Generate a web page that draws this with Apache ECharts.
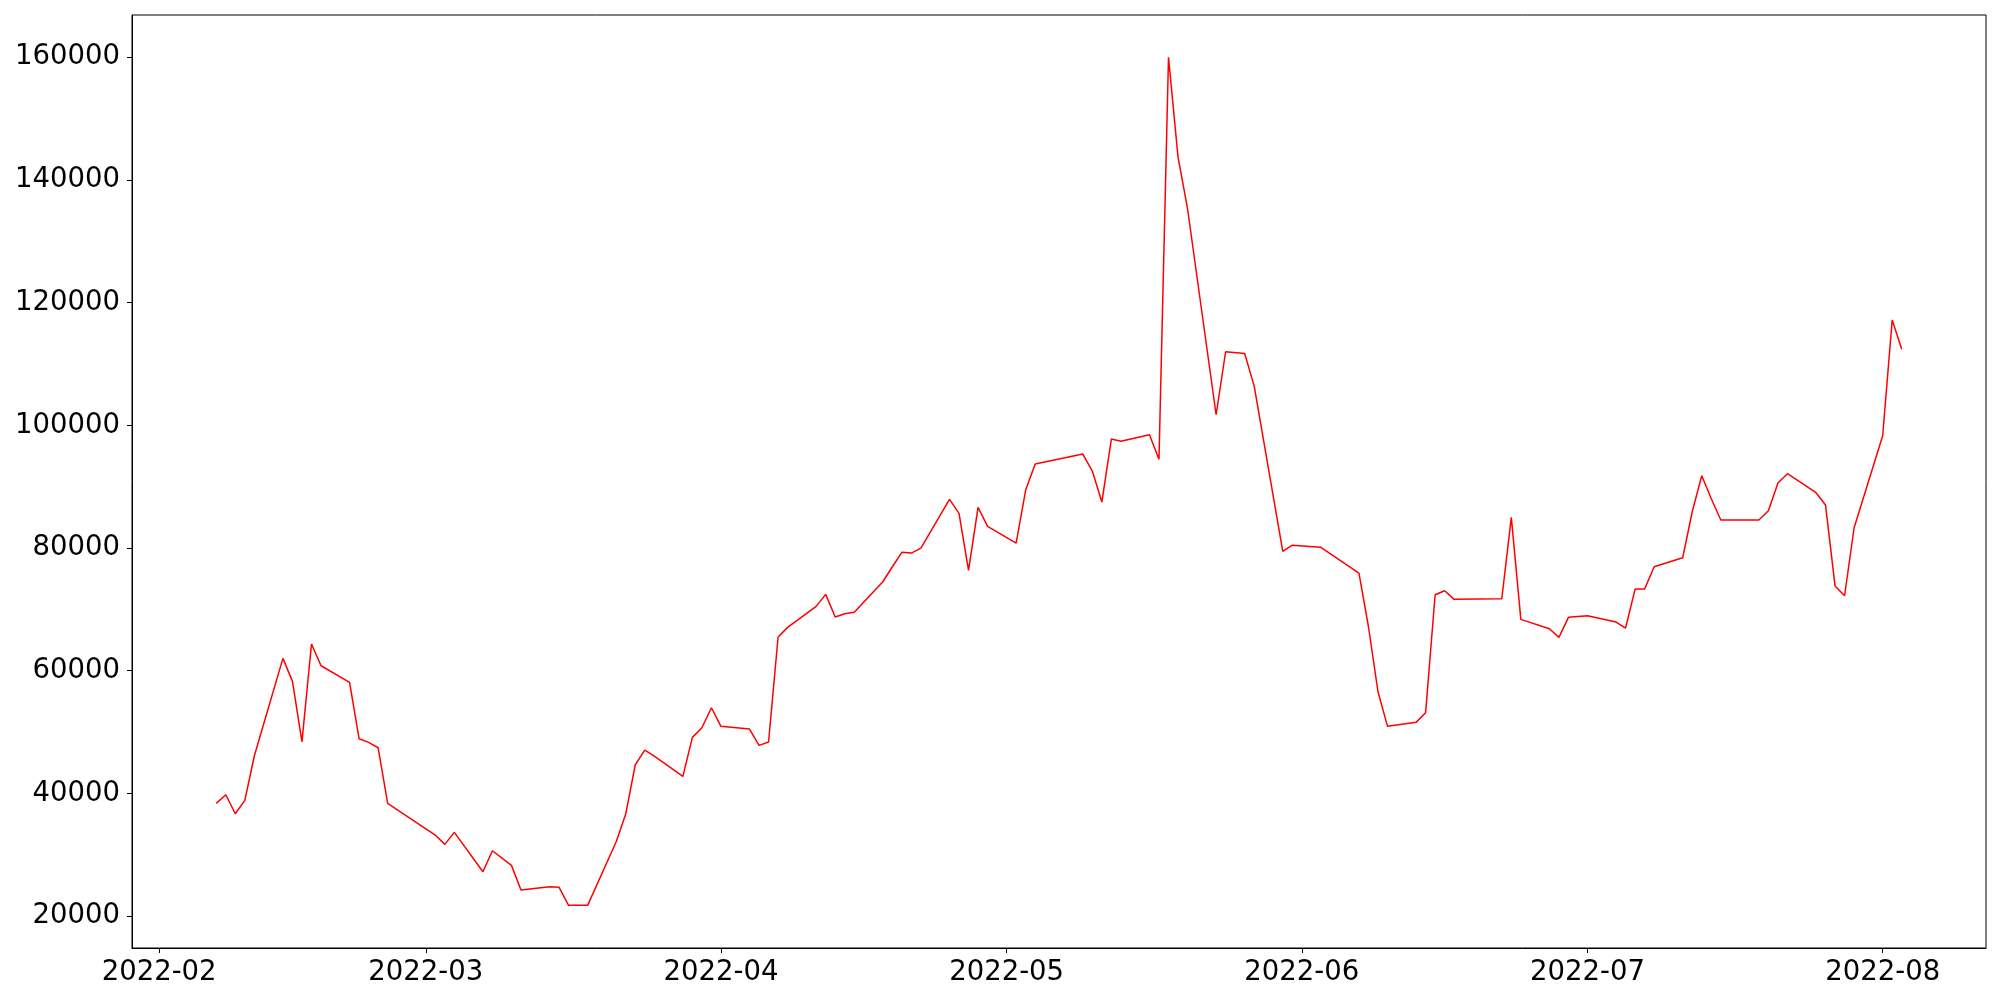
<!DOCTYPE html>
<html>
<head>
<meta charset="utf-8">
<script src="https://cdn.jsdelivr.net/npm/echarts@6/dist/echarts.min.js"></script>
<style>
  html, body { margin: 0; padding: 0; background: #fff; }
  #chart { width: 2000px; height: 1000px; }
</style>
</head>
<body>
<div id="chart"></div>
<script>
const dates = [
  "2022-02-07","2022-02-08","2022-02-09","2022-02-10","2022-02-11",
  "2022-02-14","2022-02-15","2022-02-16","2022-02-17","2022-02-18",
  "2022-02-21","2022-02-22","2022-02-23","2022-02-24","2022-02-25",
  "2022-03-02","2022-03-03","2022-03-04",
  "2022-03-07","2022-03-08","2022-03-10","2022-03-11",
  "2022-03-14","2022-03-15","2022-03-16","2022-03-17","2022-03-18",
  "2022-03-21","2022-03-22","2022-03-23","2022-03-24","2022-03-25",
  "2022-03-28","2022-03-29","2022-03-30","2022-03-31","2022-04-01",
  "2022-04-04","2022-04-05","2022-04-06","2022-04-07","2022-04-08",
  "2022-04-11","2022-04-12","2022-04-13","2022-04-14","2022-04-15",
  "2022-04-18","2022-04-19","2022-04-20","2022-04-21","2022-04-22",
  "2022-04-25","2022-04-26","2022-04-27","2022-04-28","2022-04-29",
  "2022-05-02","2022-05-03","2022-05-04",
  "2022-05-09","2022-05-10","2022-05-11","2022-05-12","2022-05-13",
  "2022-05-16","2022-05-17","2022-05-18","2022-05-19","2022-05-20",
  "2022-05-23","2022-05-24","2022-05-26","2022-05-27",
  "2022-05-30","2022-05-31","2022-06-03",
  "2022-06-07","2022-06-08","2022-06-09","2022-06-10",
  "2022-06-13","2022-06-14","2022-06-15","2022-06-16","2022-06-17",
  "2022-06-22","2022-06-23","2022-06-24",
  "2022-06-27","2022-06-28","2022-06-29","2022-07-01",
  "2022-07-04","2022-07-05","2022-07-06","2022-07-07","2022-07-08",
  "2022-07-11","2022-07-12","2022-07-13","2022-07-14","2022-07-15",
  "2022-07-19","2022-07-20","2022-07-21","2022-07-22",
  "2022-07-25","2022-07-26","2022-07-27","2022-07-28","2022-07-29",
  "2022-08-01","2022-08-02","2022-08-03"
];
const values = [
  38380, 39785, 36686, 38869, 46138,
  62019, 58269, 48422, 64350, 60812,
  58106, 48911, 48324, 47444, 38380,
  33210, 31695, 33652,
  27228, 30652, 28272, 24245,
  24783, 24685, 21751, 21751, 21751,
  32119, 36634, 44673, 47069, 46091,
  42781, 49140, 50705, 53965, 50933,
  50493, 47835, 48374, 65491, 67073,
  70497, 72453, 68752, 69290, 69518,
  74507, 76952, 79300, 79186, 80000,
  87941, 85658, 76366, 86636, 83539,
  80816, 89457, 93696,
  95326, 92554, 87500, 97771, 97396,
  98472, 94462, 160000, 143729, 135317,
  101733, 112004, 111727, 106396,
  79447, 80458, 80115,
  75924, 67171, 56574, 50933,
  51585, 53150, 72388, 73040, 71638,
  71736, 85006, 68377,
  66845, 65443, 68703, 68964,
  67937, 66959, 73316, 73316, 76952,
  78420, 85919, 91788, 88039, 84566,
  84566, 86082, 90598, 92114,
  89017, 87011, 73806, 72225, 83311,
  98309, 117172, 112395
];
const yTicks = [20000, 40000, 60000, 80000, 100000, 120000, 140000, 160000];
const xTickLabels = ["2022-02","2022-03","2022-04","2022-05","2022-06","2022-07","2022-08"];

const DAY = 86400000;
function ts(s) { const p = s.split('-').map(Number); return Date.UTC(p[0], p[1] - 1, p[2] || 1); }
const seriesData = dates.map((d, i) => [ts(d), values[i]]);
const xTickValues = xTickLabels.map(ts);
const xMin = ts(dates[0]) - 8.85 * DAY;
const xMax = ts(dates[dates.length - 1]) + 8.85 * DAY;

const font = { fontFamily: 'DejaVu Sans', fontSize: 27.5, color: '#000' };

const chart = echarts.init(document.getElementById('chart'), null, { renderer: 'canvas' });
chart.setOption({
  animation: false,
  backgroundColor: '#fff',
  grid: {
    left: 132, right: 14, top: 15, bottom: 52,
    show: true, borderColor: '#000', borderWidth: 1, backgroundColor: 'transparent'
  },
  xAxis: {
    type: 'value',
    min: xMin, max: xMax,
    splitLine: { show: false },
    axisLine: { show: true, lineStyle: { color: '#000', width: 1 } },
    axisTick: { show: true, length: 5, lineStyle: { color: '#000', width: 1 }, customValues: xTickValues },
    axisLabel: Object.assign({
      margin: 11,
      customValues: xTickValues,
      formatter: function (v) {
        const i = xTickValues.indexOf(v);
        return i >= 0 ? xTickLabels[i] : '';
      }
    }, font)
  },
  yAxis: {
    type: 'value',
    min: 14800, max: 166900,
    splitLine: { show: false },
    axisLine: { show: true, lineStyle: { color: '#000', width: 1 } },
    axisTick: { show: true, length: 5, lineStyle: { color: '#000', width: 1 }, customValues: yTicks },
    axisLabel: Object.assign({
      margin: 12,
      customValues: yTicks,
      formatter: function (v) { return String(Math.round(v)); }
    }, font)
  },
  series: [{
    type: 'line',
    data: seriesData,
    showSymbol: false,
    symbol: 'none',
    lineStyle: { color: '#ff0000', width: 1.5 },
    itemStyle: { color: '#ff0000' }
  }]
});
</script>
</body>
</html>
